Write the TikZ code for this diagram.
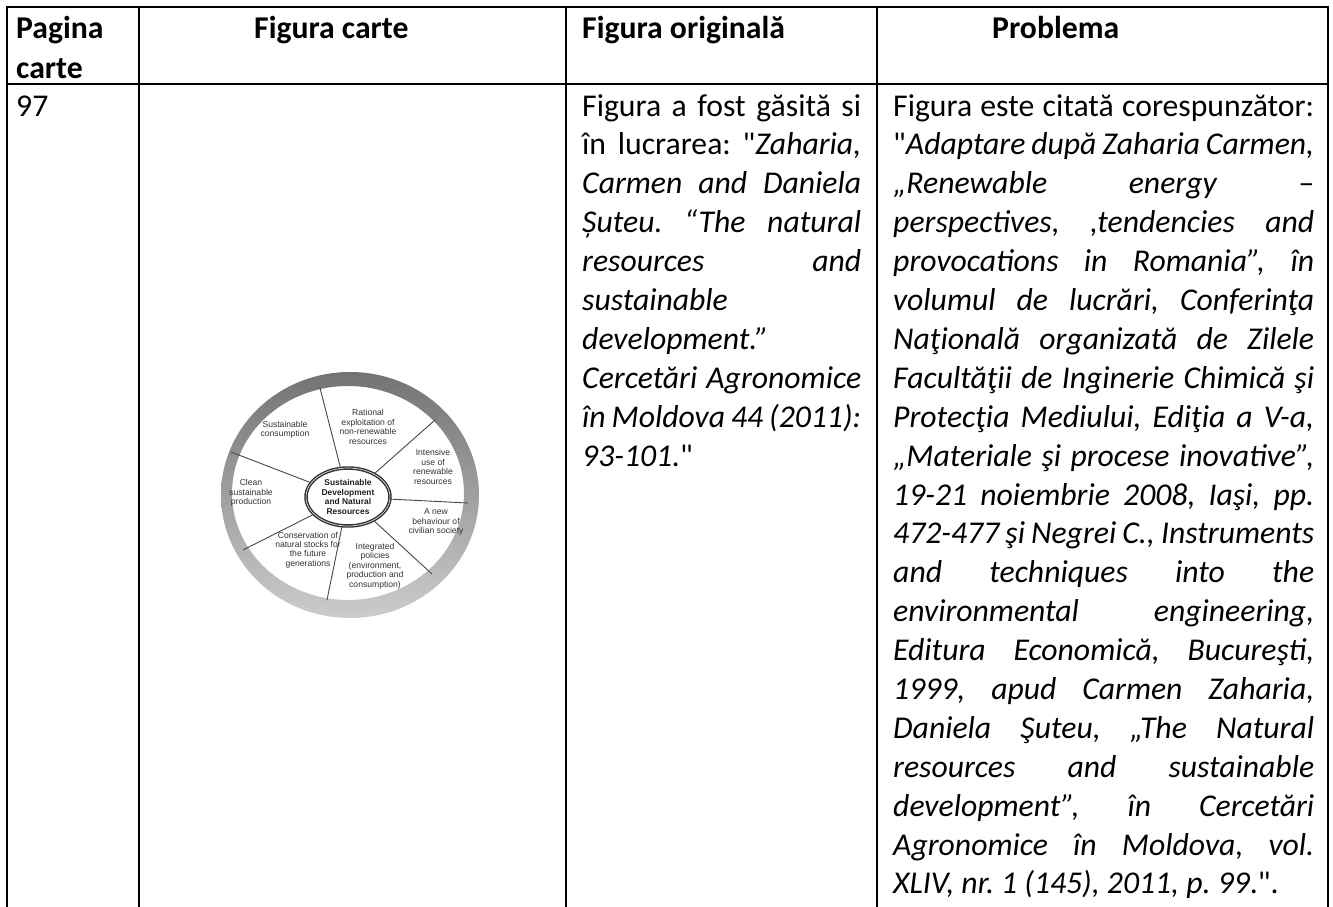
\documentclass[tikz,border=0pt]{standalone}
\usepackage{fontspec}
\setmainfont{Carlito}[Ligatures=TeXOff]
\newfontfamily\arialf{Liberation Sans}
\usetikzlibrary{shapes.geometric}
\tolerance=10000 \hbadness=10000 \hyphenpenalty=10000 \exhyphenpenalty=10000
\frenchspacing
\begin{document}
\begin{tikzpicture}[x=1pt,y=-1pt,
  rule/.style={line width=2pt, line cap=rect},
  cell/.style={anchor=base west, inner sep=0pt, font=\fontsize{31.7}{38.9}\selectfont},
  hdr/.style={cell, font=\fontsize{31.7}{38.9}\selectfont\bfseries},
  para/.style={cell, align=justify, text width=#1},
  lab/.style={align=center, inner sep=0pt, text=black!80, font=\arialf\fontsize{8.6}{9.4}\selectfont},
  spoke/.style={black!72, line width=0.9pt},
]
\useasboundingbox[fill=white] (0,0) rectangle (1333,907);

% table rules
\draw[rule] (7,7) -- (1328,7);
\draw[rule] (7,84) -- (1328,84);
\foreach \xx in {7,139,566,877,1328} \draw[rule] (\xx,7) -- (\xx,907);

% header
\node[hdr] (h1a) at (16,39) {Pagina};
\node[hdr] (h1b) at (16,78) {carte};
\node[hdr] (h2) at (254,39) {Figura carte};
\node[hdr] (h3) at (582,39) {Figura originală};
\node[hdr] (h4) at (992,39) {Problema};

% column 1
\node[cell] (p97) at (16,116) {97};

% column 3
\node[para=279pt] (c3) at (582,116) {Figura a fost găsită si\linebreak
în lucrarea: "\textit{Zaharia,\linebreak
Carmen and Daniela\linebreak
Șuteu. “The natural\linebreak
resources and\linebreak
sustainable\linebreak
development.”\linebreak
Cercetări Agronomice\linebreak
în Moldova 44 (2011):\linebreak
93-101.}"};

% column 4
\node[para=421pt] (c4) at (893,116) {Figura este citată corespunzător:\linebreak
"\textit{Adaptare după Zaharia Carmen,\linebreak
„Renewable energy –\linebreak
perspectives, ,tendencies and\linebreak
provocations in Romania”, în\linebreak
volumul de lucrări, Conferinţa\linebreak
Naţională organizată de Zilele\linebreak
Facultăţii de Inginerie Chimică şi\linebreak
Protecţia Mediului, Ediţia a V-a,\linebreak
„Materiale şi procese inovative”,\linebreak
19-21 noiembrie 2008, Iaşi, pp.\linebreak
472-477 şi Negrei C., Instruments\linebreak
and techniques into the\linebreak
environmental engineering,\linebreak
Editura Economică, Bucureşti,\linebreak
1999, apud Carmen Zaharia,\linebreak
Daniela Şuteu, „The Natural\linebreak
resources and sustainable\linebreak
development”, în Cercetări\linebreak
Agronomice în Moldova, vol.\linebreak
XLIV, nr. 1 (145), 2011, p. 99}.".};

% ---- diagram ----
\shade[even odd rule, top color=black!55, bottom color=black!20]
  (350,495) ellipse [x radius=129pt, y radius=123pt]
  (348,493) ellipse [x radius=116pt, y radius=107pt];

\node[draw=black!80, line width=1.4pt, double=black!15, double distance=0.7pt,
      ellipse, minimum width=84pt, minimum height=58pt, inner sep=0pt,
      align=center, text=black!88, font=\arialf\bfseries\fontsize{8.4}{9.4}\selectfont]
      (core) at (348,497) {Sustainable\\Development\\and Natural\\Resources};

\coordinate (s1) at (320,388);
\coordinate (s2) at (435,420);
\coordinate (s3) at (468,503);
\coordinate (s4) at (432,574);
\coordinate (s5) at (327,600);
\coordinate (s6) at (243,550);
\coordinate (s7) at (231,452);
\foreach \s in {s1,s2,s3,s4,s5,s6,s7} \draw[spoke] (core) -- (\s);

\node[lab] (sc) at (285,430) {Sustainable\\consumption};
\node[lab] (re) at (368,427) {Rational\\exploitation of\\non-renewable\\resources};
\node[lab] (iu) at (433,467) {Intensive\\use of\\renewable\\resources};
\node[lab] (nb) at (436,522) {A new\\behaviour of\\civilian society};
\node[lab] (ip) at (375,566) {Integrated\\policies\\(environment,\\production and\\consumption)};
\node[lab] (cn) at (308,550) {Conservation of\\natural stocks for\\the future\\generations};
\node[lab] (cl) at (251,493) {Clean\\sustainable\\production};
\end{tikzpicture}
\end{document}
